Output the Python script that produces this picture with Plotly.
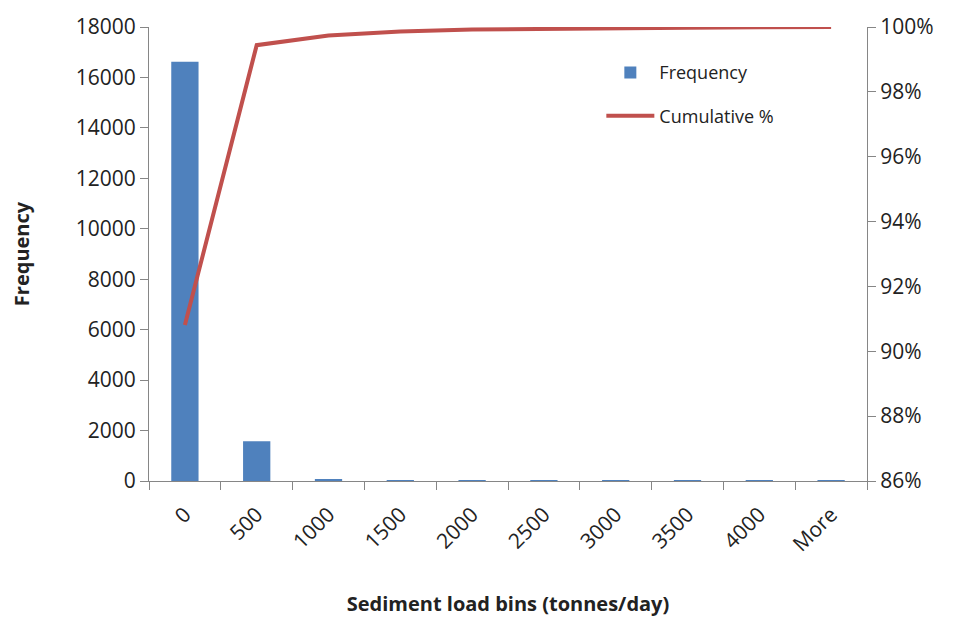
import plotly.graph_objects as go

bins = ["0", "500", "1000", "1500", "2000", "2500", "3000", "3500", "4000", "More"]
frequency = [16620, 1580, 55, 22, 10, 6, 4, 2, 2, 1]
cumulative_pct = [0.9081, 0.9944, 0.9974, 0.9986, 0.9992, 0.9995, 0.9997, 0.9998, 0.9999, 1.0]

FONT = "Open Sans"
AX = "#868686"

fig = go.Figure()
fig.add_trace(go.Bar(
    x=bins, y=frequency, name="Frequency", legendgroup="f",
    marker=dict(color="#4F81BD", line=dict(width=0)),
    width=0.38,
))
fig.add_trace(go.Scatter(
    x=bins, y=cumulative_pct, name="Cumulative %", yaxis="y2", legendgroup="c",
    mode="lines", line=dict(color="#C0504D", width=4),
))

fig.update_layout(
    width=956, height=623,
    margin=dict(l=149, r=89, t=23, b=141),
    paper_bgcolor="white", plot_bgcolor="white",
    font=dict(family=FONT, size=20, color="#222222"),
    showlegend=True,
    legend=dict(x=0.63, y=0.94, xanchor="left", yanchor="top",
                bgcolor="rgba(0,0,0,0)", font=dict(size=18),
                tracegroupgap=17, itemwidth=48),
    xaxis=dict(
        type="category", range=[-0.5, 9.5],
        showline=True, linecolor=AX, linewidth=1,
        ticks="outside", ticklen=8, tickcolor=AX, tickson="boundaries",
        tickangle=-45, showgrid=False, zeroline=False,
        tickfont=dict(size=21), ticklabelstandoff=12,
        title=dict(text="<b>Sediment load bins (tonnes/day)</b>", font=dict(size=20), standoff=40),
    ),
    yaxis=dict(
        range=[0, 18000], dtick=2000, tick0=0, tickformat="d",
        showline=True, linecolor=AX, linewidth=1,
        ticks="outside", ticklen=8, tickcolor=AX,
        showgrid=False, zeroline=False,
        tickfont=dict(size=21),
        title=dict(text="<b>Frequency</b>", font=dict(size=20), standoff=40),
    ),
    yaxis2=dict(
        overlaying="y", side="right",
        range=[0.86, 1.0], dtick=0.02, tick0=0.86, tickformat=".0%",
        showline=True, linecolor=AX, linewidth=1,
        ticks="outside", ticklen=8, tickcolor=AX,
        showgrid=False, zeroline=False,
        tickfont=dict(size=21),
    ),
)

fig.write_html("out.html")
